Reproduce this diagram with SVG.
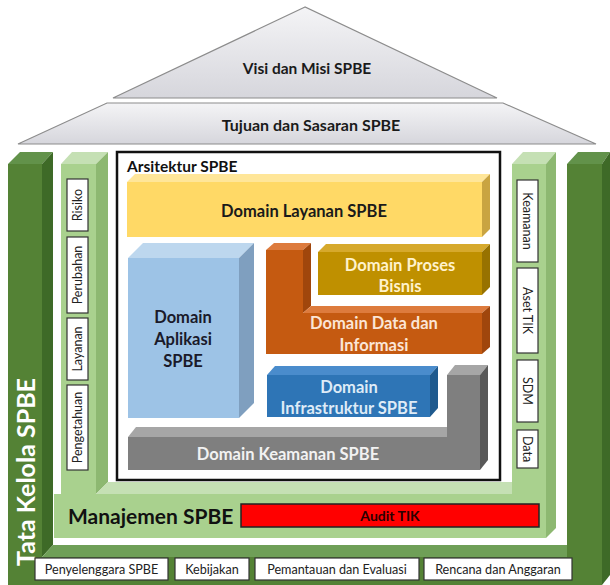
<svg xmlns="http://www.w3.org/2000/svg" width="610" height="585" viewBox="0 0 610 585">
<defs>
<linearGradient id="roofGrad" x1="0" y1="0" x2="0" y2="1">
<stop offset="0" stop-color="#f4f4f6"/>
<stop offset="1" stop-color="#d6d6dc"/>
</linearGradient>
</defs>
<style>
text{font-family:Lato,"Open Sans","Liberation Sans",sans-serif;}
.b{font-weight:bold;}
.roof{fill:url(#roofGrad);stroke:#8c8c8c;stroke-width:1.2;}
.dgF{fill:#548235;}
.dgT{fill:#62924a;}
.dgS{fill:#3e6a27;}
.dgB{fill:#6f9f57;}
.lgF{fill:#a9d18e;}
.lgT{fill:#c5e0b4;}
.lgS{fill:#8db871;}
.lbl{fill:#fff;stroke:#333;stroke-width:1.2;}
.lt{font-size:12.5px;fill:#222;text-anchor:middle;}
.bt{font-size:12.6px;fill:#222;text-anchor:middle;}
.dt{font-size:16.5px;font-weight:bold;text-anchor:middle;}
</style>
<rect width="610" height="585" fill="#fff"/>

<g id="visi-misi">
<polygon class="roof" points="305,7 113,98 497,98"/>
<text class="b" x="307" y="74" font-size="15.5" text-anchor="middle" fill="#1a1a1a">Visi dan Misi SPBE</text>
</g>
<g id="tujuan-sasaran">
<polygon class="roof" points="107,103 503,103 596,144 18,144"/>
<text class="b" x="311" y="131" font-size="16" text-anchor="middle" fill="#1a1a1a">Tujuan dan Sasaran SPBE</text>
</g>

<g id="tata-kelola">
<polygon class="dgT" points="8,164 20,152 53,152 42,164"/>
<rect class="dgF" x="8" y="164" width="34" height="421"/>
<polygon class="dgS" points="42,164 53,152 53,545 42,557"/>
<polygon class="dgB" points="42,557 53,545 567,545 567,557"/>
<rect class="dgF" x="8" y="557" width="594" height="28"/>
<polygon class="dgT" points="567,164 578,152 610,152 602,164"/>
<rect class="dgF" x="567" y="164" width="35" height="421"/>
<polygon class="dgS" points="602,164 610,152 610,575 602,585"/>
<text class="b" transform="translate(35,472) rotate(-90)" font-size="25" fill="#fff" text-anchor="middle">Tata Kelola SPBE</text>
</g>

<g id="tata-kelola-items">
<rect class="lbl" x="35" y="558" width="133" height="22"/>
<text class="bt" x="101.5" y="573.5">Penyelenggara SPBE</text>
<rect class="lbl" x="175" y="558" width="74" height="22"/>
<text class="bt" x="212" y="573.5">Kebijakan</text>
<rect class="lbl" x="255" y="558" width="164" height="22"/>
<text class="bt" x="337" y="573.5">Pemantauan dan Evaluasi</text>
<rect class="lbl" x="424" y="558" width="148" height="22"/>
<text class="bt" x="498" y="573.5">Rencana dan Anggaran</text>
</g>

<g id="manajemen">
<polygon class="lgT" points="61,164 72,152 108,152 96,164"/>
<rect class="lgF" x="61" y="164" width="35" height="330"/>
<polygon class="lgS" points="96,164 108,152 108,482 96,494"/>
<polygon class="lgT" points="96,494 108,482 512,482 512,494"/>
<polygon class="lgT" points="512,164 523,152 556,152 546,164"/>
<rect class="lgF" x="512" y="164" width="34" height="330"/>
<polygon class="lgS" points="546,164 556,152 556,528 546,538"/>
<rect class="lgF" x="54" y="494" width="492" height="44"/>
<text class="b" x="68" y="524" font-size="21" fill="#111">Manajemen SPBE</text>
</g>

<g id="audit-tik">
<rect x="241" y="504" width="298" height="23" fill="#ff0000" stroke="#222" stroke-width="1.5"/>
<text class="b" x="390" y="521" font-size="14" text-anchor="middle" fill="#2a0000">Audit TIK</text>
</g>

<g id="manajemen-items">
<rect class="lbl" x="67" y="179" width="21" height="52"/>
<text class="lt" transform="translate(82,205) rotate(-90)">Risiko</text>
<rect class="lbl" x="67" y="237" width="21" height="76"/>
<text class="lt" transform="translate(82,275) rotate(-90)">Perubahan</text>
<rect class="lbl" x="67" y="318" width="21" height="62"/>
<text class="lt" transform="translate(82,349) rotate(-90)">Layanan</text>
<rect class="lbl" x="67" y="385" width="21" height="85"/>
<text class="lt" transform="translate(82,427.5) rotate(-90)">Pengetahuan</text>
<rect class="lbl" x="517" y="180" width="21" height="82"/>
<text class="lt" transform="translate(523,221) rotate(90)">Keamanan</text>
<rect class="lbl" x="517" y="268" width="21" height="85"/>
<text class="lt" transform="translate(523,310.5) rotate(90)">Aset TIK</text>
<rect class="lbl" x="517" y="360" width="21" height="62"/>
<text class="lt" transform="translate(523,391) rotate(90)">SDM</text>
<rect class="lbl" x="517" y="430" width="21" height="38"/>
<text class="lt" transform="translate(523,449) rotate(90)">Data</text>
</g>

<g id="arsitektur">
<rect x="117" y="152" width="383" height="328" fill="#fff" stroke="#111" stroke-width="2.5"/>
<text class="b" x="127" y="172" font-size="15.5" fill="#111">Arsitektur SPBE</text>
</g>

<g id="domain-layanan">
<polygon points="127,182 135,174 490,174 482,182" fill="#ffe699"/>
<rect x="127" y="182" width="355" height="55" fill="#ffd966"/>
<polygon points="482,182 490,174 490,229 482,237" fill="#c9a441"/>
<text class="dt" x="304" y="217" fill="#1a1a1a">Domain Layanan SPBE</text>
</g>

<g id="domain-aplikasi">
<polygon points="128,258 143,243 254,243 239,258" fill="#bdd7ee"/>
<rect x="128" y="258" width="111" height="160" fill="#9dc3e6"/>
<polygon points="239,258 254,243 254,403 239,418" fill="#7f9fbf"/>
<text class="dt" x="183" y="323" fill="#1a1a2a">Domain</text>
<text class="dt" x="183" y="345" fill="#1a1a2a">Aplikasi</text>
<text class="dt" x="183" y="367" fill="#1a1a2a">SPBE</text>
</g>

<g id="domain-data">
<polygon points="266,250 274,243 311,243 303,250" fill="#dd7b3d"/>
<polygon points="303,250 311,243 311,306 303,313" fill="#a0460c"/>
<polygon points="303,313 311,306 490,306 482,313" fill="#dd7b3d"/>
<polygon points="482,313 490,306 490,347 482,354" fill="#a0460c"/>
<polygon points="266,250 303,250 303,313 482,313 482,354 266,354" fill="#c55a11"/>
<text class="dt" x="374" y="329" fill="#fbe5d6">Domain Data dan</text>
<text class="dt" x="374" y="351" fill="#fbe5d6">Informasi</text>
</g>

<g id="domain-proses">
<polygon points="318,252 326,244 490,244 482,252" fill="#d6a92c"/>
<rect x="318" y="252" width="164" height="43" fill="#bf9000"/>
<polygon points="482,252 490,244 490,287 482,295" fill="#977200"/>
<text class="dt" x="400" y="271" fill="#fff2cc">Domain Proses</text>
<text class="dt" x="400" y="292" fill="#fff2cc">Bisnis</text>
</g>

<g id="domain-infrastruktur">
<polygon points="267,375 275,366 438,366 430,375" fill="#4a8ccc"/>
<rect x="267" y="375" width="163" height="42" fill="#2e75b6"/>
<polygon points="430,375 438,366 438,408 430,417" fill="#1f5a8e"/>
<text class="dt" x="349" y="393" fill="#deebf7">Domain</text>
<text class="dt" x="349" y="414" fill="#deebf7">Infrastruktur SPBE</text>
</g>

<g id="domain-keamanan">
<polygon points="128,437 136,427 447,427 447,437" fill="#a6a6a6"/>
<polygon points="447,375 455,365 488,365 480,375" fill="#a6a6a6"/>
<polygon points="480,375 488,365 488,460 480,470" fill="#595959"/>
<polygon points="128,437 447,437 447,375 480,375 480,470 128,470" fill="#7f7f7f"/>
<text class="dt" x="288" y="460" fill="#f2f2f2">Domain Keamanan SPBE</text>
</g>

<g id="connectors"/>
</svg>
